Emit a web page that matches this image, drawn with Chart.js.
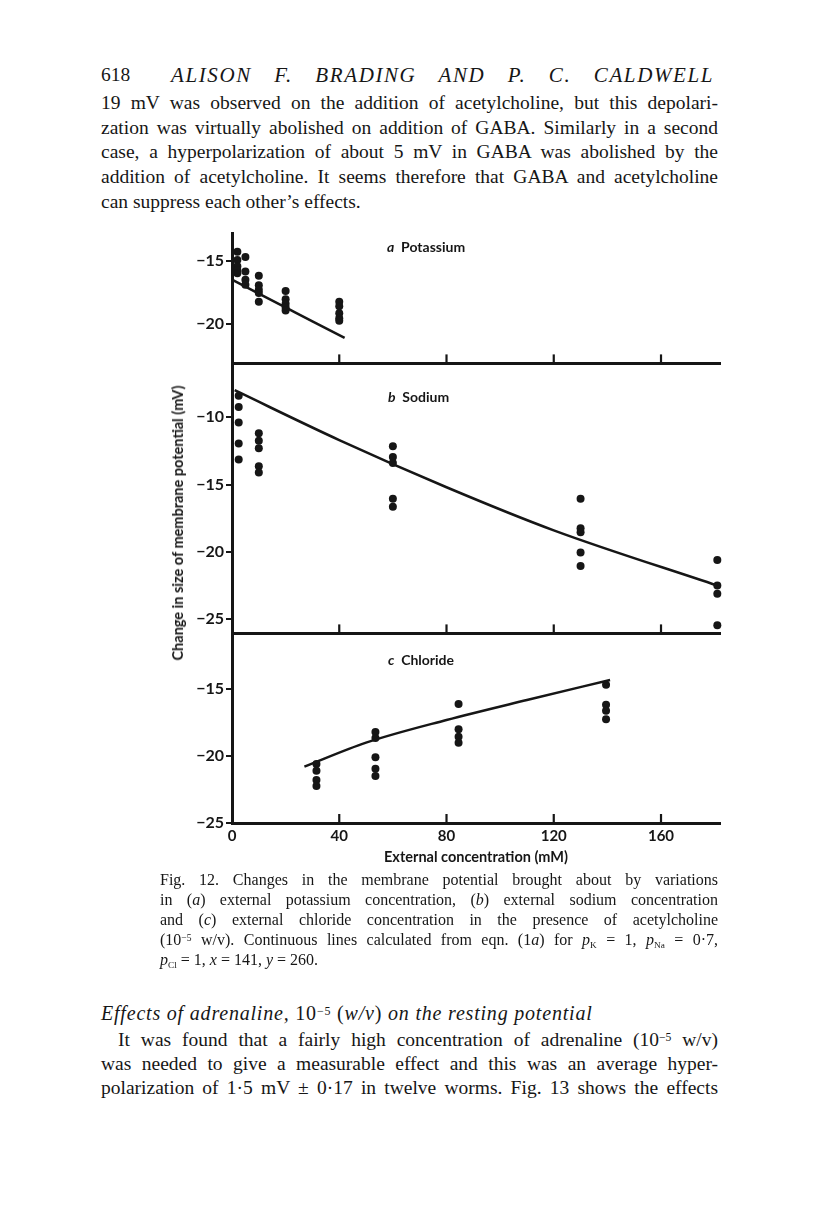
<!DOCTYPE html>
<html>
<head>
<meta charset="utf-8">
<script src="https://cdn.jsdelivr.net/npm/chart.js@4/dist/chart.umd.min.js"></script>
<style>
  body { margin: 0; background: #fff; width: 816px; height: 1227px; position: relative; overflow: hidden; color: #161616; }
  .t { position: absolute; font-family: "Liberation Serif", serif; white-space: nowrap; line-height: 24px; font-size: 19.5px; }
  .j { text-align: justify; text-align-last: justify; white-space: normal; }
  .cap { font-size: 16px; line-height: 20px; }
  sup, sub { line-height: 0; vertical-align: baseline; position: relative; font-style: normal; }
  sup { top: -0.45em; font-size: 0.6em; }
  sub { top: 0.3em; font-size: 0.58em; }
  canvas { position: absolute; left: 150px; }
  .lab { position: absolute; font-family: Lato, sans-serif; font-weight: bold; font-size: 14px; line-height: 16px; color: #161616; white-space: nowrap; }
</style>
</head>
<body>

<div class="t" style="left:101px;top:63px">618</div>
<div class="t j" style="left:171px;top:63px;width:543px;font-style:italic;font-size:21px;letter-spacing:1.6px">ALISON F. BRADING AND P. C. CALDWELL</div>

<div class="t j" style="left:101px;top:91px;width:617px">19 mV was observed on the addition of acetylcholine, but this depolari-</div>
<div class="t j" style="left:101px;top:116px;width:617px">zation was virtually abolished on addition of GABA. Similarly in a second</div>
<div class="t j" style="left:101px;top:140px;width:617px">case, a hyperpolarization of about 5 mV in GABA was abolished by the</div>
<div class="t j" style="left:101px;top:165px;width:617px">addition of acetylcholine. It seems therefore that GABA and acetylcholine</div>
<div class="t" style="left:101px;top:190px">can suppress each other’s effects.</div>

<canvas id="chartK" width="580" height="155" style="top:220px"></canvas>
<canvas id="chartNa" width="580" height="290" style="top:355px"></canvas>
<canvas id="chartCl" width="580" height="245" style="top:625px"></canvas>

<div class="lab" style="left:387px;top:239px"><i>a</i>&nbsp; Potassium</div>
<div class="lab" style="left:388px;top:389px"><i>b</i>&nbsp; Sodium</div>
<div class="lab" style="left:388px;top:652px"><i>c</i>&nbsp; Chloride</div>
<div class="lab" style="left:178px;top:523px;font-size:14.5px;transform:translate(-50%,-50%) rotate(-90deg)">Change in size of membrane potential (mV)</div>

<div class="t j cap" style="left:160px;top:870px;width:558px">Fig. 12. Changes in the membrane potential brought about by variations</div>
<div class="t j cap" style="left:160px;top:890px;width:558px">in (<i>a</i>) external potassium concentration, (<i>b</i>) external sodium concentration</div>
<div class="t j cap" style="left:160px;top:910px;width:558px">and (<i>c</i>) external chloride concentration in the presence of acetylcholine</div>
<div class="t j cap" style="left:160px;top:930px;width:558px">(10<sup>−5</sup> w/v). Continuous lines calculated from eqn. (1<i>a</i>) for <i>p</i><sub>K</sub> = 1, <i>p</i><sub>Na</sub> = 0·7,</div>
<div class="t cap" style="left:160px;top:950px"><i>p</i><sub>Cl</sub> = 1, <i>x</i> = 141, <i>y</i> = 260.</div>

<div class="t" style="left:101px;top:1001px;font-style:italic;font-size:20px;letter-spacing:0.8px">Effects of adrenaline, <span style="font-style:normal">10<sup>−5</sup> (</span>w/v<span style="font-style:normal">)</span> on the resting potential</div>
<div class="t j" style="left:118px;top:1028px;width:600px">It was found that a fairly high concentration of adrenaline (10<sup>−5</sup> w/v)</div>
<div class="t j" style="left:101px;top:1052px;width:617px">was needed to give a measurable effect and this was an average hyper-</div>
<div class="t j" style="left:101px;top:1076px;width:617px">polarization of 1·5 mV ± 0·17 in twelve worms. Fig. 13 shows the effects</div>

<script>
const ink = '#161616';

// shared x axis (external concentration, mM)
const xTicks = [0, 40, 80, 120, 160];

// a  Potassium
const kConc  = [2, 2, 2, 2, 2, 5, 5, 5, 5, 10, 10, 10, 10, 10, 20, 20, 20, 20, 20, 40, 40, 40, 40, 40];
const kDelta = [-14.3, -14.95, -15.45, -15.75, -16.0, -14.7, -15.85, -16.5, -16.9,
                -16.2, -16.95, -17.3, -17.55, -18.25, -17.4, -18.05, -18.4, -18.7, -18.95,
                -18.25, -18.6, -19.15, -19.55, -19.75];
const kLineConc  = [0, 10, 20, 30, 42];
const kLineDelta = [-16.5, -17.6, -18.7, -19.8, -21.1];
const yTicksK = [-15, -20];

// b  Sodium
const naConc  = [2.5, 2.5, 2.5, 2.5, 2.5, 10, 10, 10, 10, 10, 60, 60, 60, 60, 60, 130, 130, 130, 130, 130, 181, 181, 181, 181];
const naDelta = [-8.4, -9.25, -10.4, -11.95, -13.15, -11.2, -11.75, -12.3, -13.65, -14.1,
                 -12.15, -12.95, -13.4, -16.05, -16.65, -16.05, -18.25, -18.55, -20.05, -21.05,
                 -20.6, -22.5, -23.1, -25.45];
const naLineConc  = [1, 40, 80, 120, 181];
const naLineDelta = [-8.0, -11.7, -15.2, -18.4, -22.5];
const yTicksNa = [-10, -15, -20, -25];

// c  Chloride
const clConc  = [31.5, 31.5, 31.5, 31.5, 53.5, 53.5, 53.5, 53.5, 53.5, 84.5, 84.5, 84.5, 84.5, 139.5, 139.5, 139.5, 139.5];
const clDelta = [-20.6, -21.1, -21.8, -22.25, -18.2, -18.65, -20.1, -20.95, -21.5,
                 -16.1, -18.0, -18.55, -19.0, -14.65, -16.15, -16.6, -17.25];
const clLineConc  = [27, 50, 80, 110, 141];
const clLineDelta = [-20.8, -19.0, -17.3, -15.8, -14.3];
const yTicksCl = [-15, -20, -25];

const zip = (xs, ys) => xs.map((x, i) => ({ x, y: ys[i] }));

// short tick marks pointing up into the plot
const inwardTicks = {
  id: 'inwardTicks',
  beforeDatasetsDraw(chart) {
    const { ctx, chartArea, scales: { x } } = chart;
    ctx.save();
    ctx.strokeStyle = ink;
    ctx.lineWidth = 2.2;
    xTicks.filter(v => v > 0).forEach(v => {
      const px = x.getPixelForValue(v);
      ctx.beginPath();
      ctx.moveTo(px, chartArea.bottom);
      ctx.lineTo(px, chartArea.bottom - 9);
      ctx.stroke();
    });
    ctx.restore();
  }
};

const tickFont = { family: 'Lato', size: 15, weight: 'bold' };

function makePanel(id, dots, curve, yMin, yMax, yTicks, showX) {
  return new Chart(document.getElementById(id), {
    data: {
      datasets: [
        { type: 'scatter', data: dots, pointRadius: 4, pointBackgroundColor: ink, pointBorderWidth: 0, clip: false },
        { type: 'line', data: curve, borderColor: ink, borderWidth: 2.5, pointRadius: 0,
          cubicInterpolationMode: 'monotone', fill: false, clip: false }
      ]
    },
    options: {
      responsive: false,
      animation: false,
      events: [],
      layout: { padding: { top: id === 'chartK' ? 13 : 11, right: 10, left: 0, bottom: 0 } },
      plugins: { legend: { display: false }, tooltip: { enabled: false } },
      scales: {
        x: {
          type: 'linear', min: 0, max: 182,
          afterBuildTicks: s => { s.ticks = xTicks.map(v => ({ value: v })); },
          afterFit: s => { s.height = showX ? 47 : 10; },
          grid: { drawOnChartArea: false, drawTicks: false },
          border: { display: true, color: ink, width: 3 },
          ticks: { display: showX, padding: 4, color: ink, font: tickFont, maxRotation: 0 },
          title: { display: showX, text: 'External concentration (mM)', color: ink,
                   font: { family: 'Lato', size: 14.5, weight: 'bold' }, padding: { top: 0, bottom: 4 } }
        },
        y: {
          type: 'linear', min: yMin, max: yMax,
          afterBuildTicks: s => { s.ticks = yTicks.map(v => ({ value: v })); },
          afterFit: s => { s.width = 82; },
          grid: { drawOnChartArea: false, drawTicks: true, tickLength: 6, lineWidth: 2, color: ink },
          border: { display: true, color: ink, width: 3 },
          ticks: { padding: 2, color: ink, font: { family: 'Lato', size: 16, weight: 'bold' },
                   callback: v => '−' + Math.abs(v) }
        }
      }
    },
    plugins: [inwardTicks]
  });
}

makePanel('chartK', zip(kConc, kDelta), zip(kLineConc, kLineDelta), -23.125, -12.81, yTicksK, false);
makePanel('chartNa', zip(naConc, naDelta), zip(naLineConc, naLineDelta), -26.05, -6.245, yTicksNa, false);
makePanel('chartCl', zip(clConc, clDelta), zip(clLineConc, clLineDelta), -25.02, -11.05, yTicksCl, true);
</script>
</body>
</html>
